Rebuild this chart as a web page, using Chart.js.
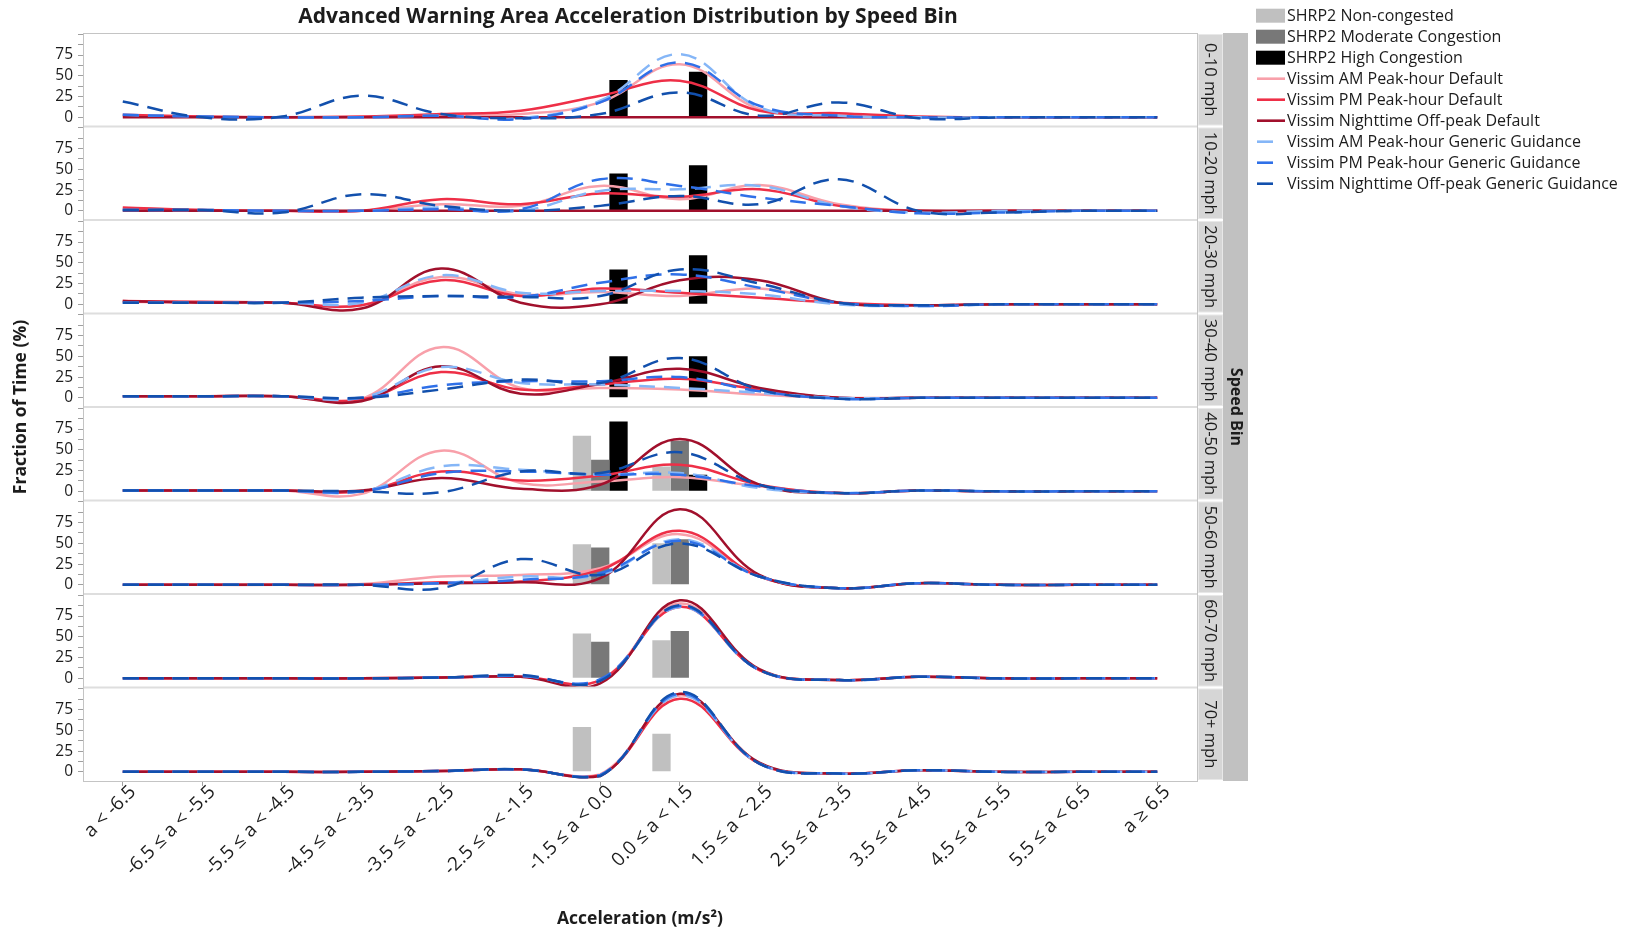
<!DOCTYPE html>
<html>
<head>
<meta charset="utf-8">
<title>Advanced Warning Area Acceleration Distribution by Speed Bin</title>
<script src="https://cdn.jsdelivr.net/npm/chart.js@4.4.1/dist/chart.umd.min.js"></script>
<style>
  html, body { margin: 0; padding: 0; background: #fff; }
  canvas { display: block; }
</style>
</head>
<body>
<canvas id="myChart" width="1630" height="933"></canvas>
<script>
// categories
var accelBins = ['a < -6.5', '-6.5 ≤ a < -5.5', '-5.5 ≤ a < -4.5', '-4.5 ≤ a < -3.5', '-3.5 ≤ a < -2.5',
  '-2.5 ≤ a < -1.5', '-1.5 ≤ a < 0.0', '0.0 ≤ a < 1.5', '1.5 ≤ a < 2.5', '2.5 ≤ a < 3.5',
  '3.5 ≤ a < 4.5', '4.5 ≤ a < 5.5', '5.5 ≤ a < 6.5', 'a ≥ 6.5'];
var speedBins = ['0-10 mph', '10-20 mph', '20-30 mph', '30-40 mph', '40-50 mph', '50-60 mph', '60-70 mph', '70+ mph'];
var barBins = ['-1.5 ≤ a < 0.0', '0.0 ≤ a < 1.5'];

var barNames = ['SHRP2 Non-congested', 'SHRP2 Moderate Congestion', 'SHRP2 High Congestion'];
var lineNames = ['Vissim AM Peak-hour Default', 'Vissim PM Peak-hour Default', 'Vissim Nighttime Off-peak Default',
  'Vissim AM Peak-hour Generic Guidance', 'Vissim PM Peak-hour Generic Guidance', 'Vissim Nighttime Off-peak Generic Guidance'];

// SHRP2 bars: one pair per speed bin (barBins)
var shrp2NonCongested = [[null, null], [null, null], [null, null], [null, null], [67, 30], [49, 50], [54, 46], [54, 46]];
var shrp2Moderate = [[null, null], [null, null], [null, null], [null, null], [38, 61], [45, 55], [44, 57], [null, null]];
var shrp2High = [[45, 55], [45, 55], [42, 59], [50, 50], [84, 20], [null, null], [null, null], [null, null]];

// Vissim curves: one row per speed bin, one value per acceleration bin
var amDefault = [
  [2, 1, 0, 0, 2, 4, 18, 64, 10, 4, 0, 0, 0, 0],
  [3, 1, 0, 0, 8, 6, 30, 14, 31, 8, 0, 0, 0, 0],
  [3, 2, 2, -1, 33, 12, 15, 10, 19, 2, -1, 0, 0, 0],
  [2, 2, 2, -1, 61, 12, 12, 10, 4, 0, 0, 0, 0, 0],
  [1, 1, 1, -3, 49, 10, 12, 17, 6, -2, 1, 0, 0, 0],
  [0, 0, 0, 1, 10, 12, 20, 61, 10, -4, 2, 0, 0, 0],
  [0, 0, 0, 0, 1, 2, -2, 90, 10, -2, 2, 0, 0, 0],
  [0, 0, 0, 0, 1, 3, -3, 92, 10, -2, 2, 0, 0, 0]
];
var pmDefault = [
  [3, 1, 0, 1, 4, 8, 26, 44, 8, 5, 1, 0, 0, 0],
  [4, 1, 0, 0, 14, 8, 21, 17, 26, 6, 0, 0, 0, 0],
  [4, 3, 2, -1, 29, 10, 19, 14, 8, 2, -1, 0, 0, 0],
  [2, 2, 2, -2, 31, 10, 16, 23, 10, 0, 0, 0, 0, 0],
  [1, 1, 1, 0, 24, 13, 19, 32, 8, -2, 1, 0, 0, 0],
  [0, 0, 0, 0, 3, 4, 18, 65, 10, -4, 2, 0, 0, 0],
  [0, 0, 0, 0, 1, 2, -2, 86, 10, -2, 2, 0, 0, 0],
  [0, 0, 0, 0, 1, 3, -4, 88, 10, -2, 2, 0, 0, 0]
];
var nightDefault = [
  [0, 0, 0, 0, 0, 0, 0, 0, 0, 0, 0, 0, 0, 0],
  [0, 0, 0, 0, 0, 0, 0, 0, 0, 0, 0, 0, 0, 0],
  [4, 2, 2, -5, 43, 2, 0, 29, 29, 2, -1, 0, 0, 0],
  [2, 2, 2, -4, 38, 5, 17, 35, 12, 0, 0, 0, 0, 0],
  [1, 1, 1, 1, 16, 3, 8, 63, 8, -2, 1, 0, 0, 0],
  [0, 0, 0, 0, 2, 3, 8, 91, 12, -4, 2, 0, 0, 0],
  [0, 0, 0, 0, 1, 2, -6, 94, 11, -2, 2, 0, 0, 0],
  [0, 0, 0, 0, 1, 3, -5, 94, 11, -2, 2, 0, 0, 0]
];
var amGeneric = [
  [3, 1, 0, 0, 2, -1, 20, 76, 12, 2, 0, 0, 0, 0],
  [1, 1, 0, 0, 4, 0, 24, 26, 30, 6, -2, 0, 0, 0],
  [2, 2, 2, 2, 35, 14, 16, 16, 12, 0, -2, 0, 0, 0],
  [2, 2, 2, 0, 37, 18, 16, 12, 6, 0, 0, 0, 0, 0],
  [1, 1, 1, 0, 30, 26, 20, 22, 4, -2, 1, 0, 0, 0],
  [0, 0, 0, 0, 2, 10, 12, 55, 10, -4, 2, 0, 0, 0],
  [0, 0, 0, 0, 1, 3, -2, 86, 10, -2, 2, 0, 0, 0],
  [0, 0, 0, 0, 1, 3, -4, 92, 10, -2, 2, 0, 0, 0]
];
var pmGeneric = [
  [3, 1, 0, 0, 2, -2, 18, 66, 14, 2, 0, 0, 0, 0],
  [1, 1, 0, 0, 2, 2, 38, 30, 16, 6, -3, -2, 0, 0],
  [2, 2, 2, 4, 10, 9, 26, 36, 20, 2, -2, 0, 0, 0],
  [2, 2, 2, 0, 15, 20, 20, 25, 8, -1, 0, 0, 0, 0],
  [1, 1, 1, 0, 22, 24, 20, 20, 6, -2, 1, 0, 0, 0],
  [0, 0, 0, 0, 2, 6, 14, 53, 10, -4, 2, 0, 0, 0],
  [0, 0, 0, 0, 1, 3, -1, 87, 10, -2, 2, 0, 0, 0],
  [0, 0, 0, 0, 1, 3, -4, 94, 10, -2, 2, 0, 0, 0]
];
var nightGeneric = [
  [19, 0, 1, 26, 4, -1, 4, 30, 2, 18, -1, 0, 0, 0],
  [1, 1, -2, 20, 6, 0, 6, 18, 8, 38, 0, -2, 0, 0],
  [2, 2, 2, 8, 10, 9, 10, 42, 25, 2, -1, 0, 0, 0],
  [2, 2, 2, 0, 10, 22, 18, 48, 10, -1, 0, 0, 0, 0],
  [1, 1, 1, 0, -1, 24, 22, 47, 8, -2, 1, 0, 0, 0],
  [0, 0, 0, 0, -4, 31, 12, 50, 10, -4, 2, 0, 0, 0],
  [0, 0, 0, 0, 1, 4, -3, 88, 10, -2, 2, 0, 0, 0],
  [0, 0, 0, 0, 1, 3, -5, 96, 10, -2, 2, 0, 0, 0]
];

var yTicks = [0, 12.5, 25, 37.5, 50, 62.5, 75, 87.5, 100];
var yLabels = [0, 25, 50, 75];

// styles
var FONT = '"Open Sans", "Noto Sans", sans-serif';
var TEXT = '#1c1c1c';
var barColors = ['#c0c0c0', '#787878', '#000000'];
var lineColors = ['#f8a0aa', '#ee2f47', '#a1102c', '#85b6f7', '#2f70e8', '#1250ad'];
var lineDashed = [false, false, false, true, true, true];

var barData = [shrp2NonCongested, shrp2Moderate, shrp2High];
var lineData = [amDefault, pmDefault, nightDefault, amGeneric, pmGeneric, nightGeneric];

// build one line / bar dataset per series and speed bin.
function buildDatasets() {
  var datasets = [];
  speedBins.forEach(function (bin, p) {
    lineData.forEach(function (series, s) {
      datasets.push({
        type: 'line',
        label: lineNames[s],
        yAxisID: 'y' + p,
        data: series[p],
        borderColor: lineColors[s],
        borderWidth: 2.5,
        borderDash: lineDashed[s] ? [16, 9] : [],
        pointRadius: 0,
        tension: 0.4,
        fill: false,
        order: 10 - s
      });
    });
    barData.forEach(function (series, s) {
      datasets.push({
        type: 'bar',
        label: barNames[s],
        yAxisID: 'y' + p,
        stack: 'b' + s,
        data: barBins.map(function (b, i) { return { x: b, y: series[p][i] }; }),
        backgroundColor: barColors[s],
        barPercentage: 1,
        categoryPercentage: 0.69,
        order: 20
      });
    });
  });
  return datasets;
}

// x axis plus one stacked y axis per speed bin (last defined sits on top).
function buildScales() {
  var scales = {
    x: {
      type: 'category',
      offset: true,
      afterFit: function (s) { s.height = 152; },
      ticks: { autoSkip: false, minRotation: 45, maxRotation: 45, padding: -5, labelOffset: 10, color: TEXT, font: { size: 19 } },
      grid: { drawOnChartArea: false, offset: false, tickLength: 5, tickColor: '#a0a0a0' },
      border: { display: false },
      title: { display: true, text: 'Acceleration (m/s²)', color: TEXT, font: { size: 17.5, weight: 'bold' }, padding: { top: 0, bottom: 3 } }
    }
  };
  for (var p = speedBins.length - 1; p >= 0; p--) {
    scales['y' + p] = {
      type: 'linear',
      position: 'left',
      stack: 'panels',
      stackWeight: 1,
      stacked: false,
      min: -11,
      max: 101.5,
      afterBuildTicks: function (s) { s.ticks = yTicks.map(function (v) { return { value: v }; }); },
      afterFit: function (s) { s.width = 83; },
      ticks: {
        autoSkip: false, padding: 5, color: TEXT, font: { size: 15.5 },
        callback: function (v) { return yLabels.indexOf(v) >= 0 ? String(v) : ''; }
      },
      grid: { drawOnChartArea: false, tickLength: 5, tickColor: '#a0a0a0' },
      border: { display: false }
    };
  }
  return scales;
}

// frame, panel strips, titles and legend.
var decorPlugin = {
  id: 'decor',
  beforeDraw: function (chart) {
    var ctx = chart.ctx;
    ctx.save();
    ctx.fillStyle = '#ffffff';
    ctx.fillRect(0, 0, chart.width, chart.height);
    ctx.restore();
  },
  afterDraw: function (chart) {
    var ctx = chart.ctx;
    var a = chart.chartArea;
    ctx.save();

    // panel separators
    ctx.strokeStyle = '#dedede';
    ctx.lineWidth = 2;
    for (var p = 1; p < speedBins.length; p++) {
      var t = chart.scales['y' + p].top;
      ctx.beginPath();
      ctx.moveTo(a.left, t);
      ctx.lineTo(a.right, t);
      ctx.stroke();
    }
    ctx.strokeStyle = '#c4c4c4';
    ctx.lineWidth = 1;
    ctx.strokeRect(a.left + 0.5, a.top + 0.5, a.right - a.left, a.bottom - a.top);

    // outer strip
    var sx = a.right + 1;
    ctx.fillStyle = '#c1c1c1';
    ctx.fillRect(sx + 25, a.top, 25, a.bottom - a.top);
    ctx.fillStyle = TEXT;
    ctx.font = 'bold 16px ' + FONT;
    ctx.textAlign = 'center';
    ctx.textBaseline = 'middle';
    ctx.save();
    ctx.translate(sx + 37.5, (a.top + a.bottom) / 2);
    ctx.rotate(Math.PI / 2);
    ctx.fillText('Speed Bin', 0, 0);
    ctx.restore();

    // panel strips
    ctx.font = '16.5px ' + FONT;
    speedBins.forEach(function (bin, p) {
      var s = chart.scales['y' + p];
      ctx.fillStyle = '#e8e8e8';
      ctx.fillRect(sx, s.top + 1, 25, s.bottom - s.top - 2);
      ctx.fillStyle = '#d6d6d6';
      ctx.fillRect(sx + 1, s.top + 2, 23, s.bottom - s.top - 4);
      ctx.fillStyle = TEXT;
      ctx.save();
      ctx.translate(sx + 12.5, (s.top + s.bottom) / 2);
      ctx.rotate(Math.PI / 2);
      ctx.fillText(bin, 0, 1);
      ctx.restore();
    });

    // titles
    ctx.font = 'bold 21px ' + FONT;
    ctx.fillText('Advanced Warning Area Acceleration Distribution by Speed Bin', 628, 17);
    ctx.save();
    ctx.font = 'bold 17.5px ' + FONT;
    ctx.translate(21, (a.top + a.bottom) / 2);
    ctx.rotate(-Math.PI / 2);
    ctx.fillText('Fraction of Time (%)', 0, 0);
    ctx.restore();

    // legend
    var lx = 1256, ly = 15.7;
    var items = [];
    barNames.forEach(function (n, i) { items.push({ label: n, color: barColors[i], kind: 'bar' }); });
    lineNames.forEach(function (n, i) { items.push({ label: n, color: lineColors[i], kind: lineDashed[i] ? 'dash' : 'line' }); });
    ctx.font = '16px ' + FONT;
    ctx.textAlign = 'left';
    items.forEach(function (it, k) {
      var y = ly + 21 * k;
      if (it.kind === 'bar') {
        ctx.fillStyle = it.color;
        ctx.fillRect(lx, y - 7, 29, 14);
      } else {
        ctx.strokeStyle = it.color;
        ctx.lineWidth = 2.6;
        ctx.beginPath();
        ctx.moveTo(lx + 1, y);
        ctx.lineTo(it.kind === 'dash' ? lx + 17 : lx + 29, y);
        ctx.stroke();
      }
      ctx.fillStyle = TEXT;
      ctx.fillText(it.label, lx + 31, y + 1);
    });
    ctx.restore();
  }
};

function createChart() {
  Chart.defaults.font.family = FONT;
  Chart.defaults.color = TEXT;

  return new Chart(document.getElementById('myChart'), {
    type: 'bar',
    data: { labels: accelBins, datasets: buildDatasets() },
    options: {
      responsive: false,
      animation: false,
      layout: { padding: { top: 33, right: 433, left: 0, bottom: 0 } },
      plugins: { legend: { display: false }, tooltip: { enabled: false }, title: { display: false } },
      scales: buildScales()
    },
    plugins: [decorPlugin]
  });
}

createChart();
</script>
</body>
</html>
